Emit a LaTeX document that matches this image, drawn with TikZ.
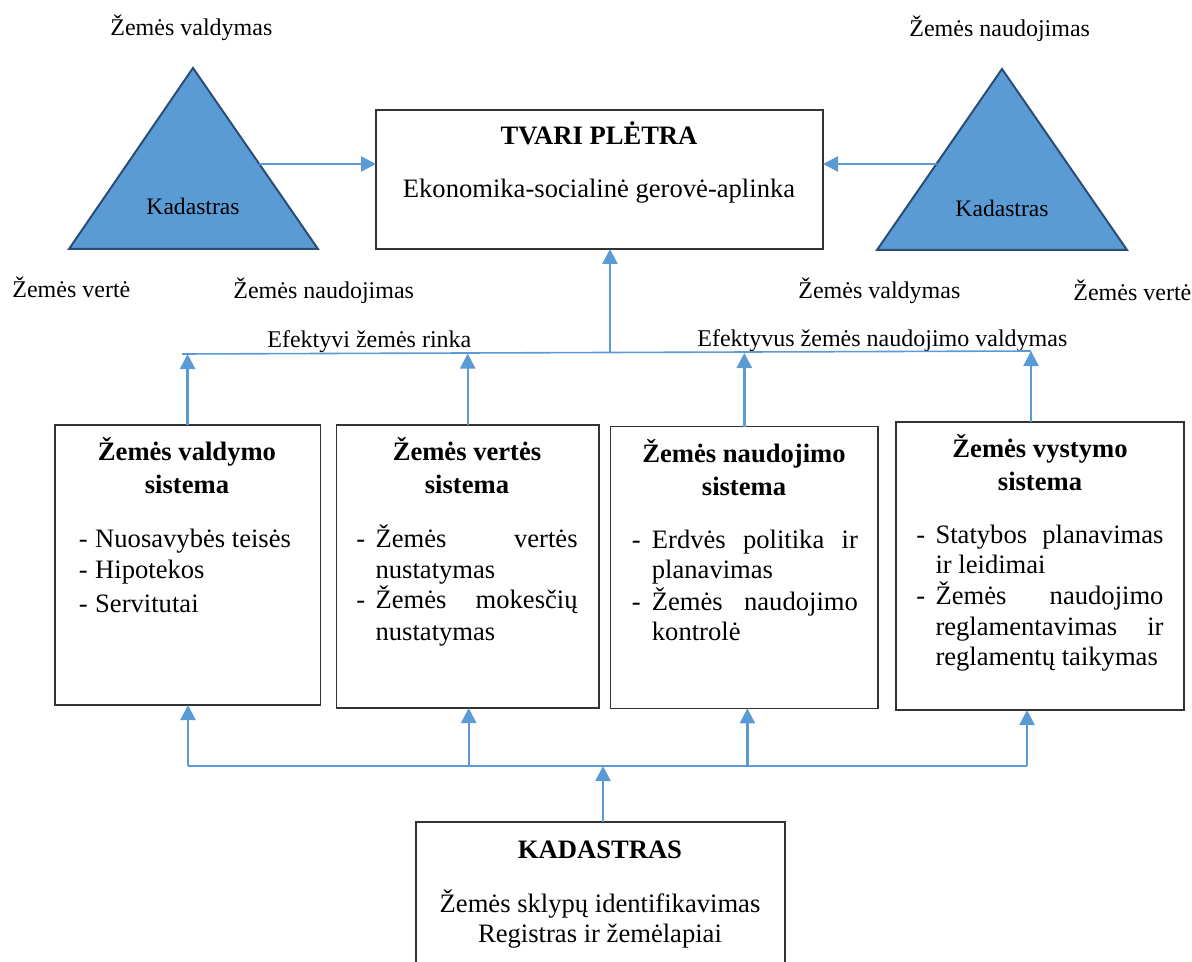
\documentclass[tikz,border=0pt]{standalone}
\usepackage{fontspec}
\setmainfont{Liberation Serif}
\usetikzlibrary{arrows.meta,calc}
\definecolor{arrblue}{HTML}{5B9BD5}
\definecolor{trifill}{HTML}{5B9BD5}
\definecolor{triedge}{HTML}{2A4D74}
\definecolor{boxedge}{HTML}{333333}
\begin{document}
\begin{tikzpicture}[x=0.5pt,y=-0.5pt,
  lab/.style={font=\fontsize{12}{14}\selectfont, inner sep=0pt, anchor=base west},
  trilab/.style={font=\fontsize{11.8}{14}\selectfont, inner sep=0pt, anchor=base},
  bigtxt/.style={font=\fontsize{13.3}{16}\selectfont, inner sep=0pt, anchor=base},
  boxtxt/.style={font=\fontsize{13.3}{16}\selectfont, inner sep=0pt, anchor=base west},
  boxttl/.style={font=\fontsize{13.3}{16}\selectfont\bfseries, inner sep=0pt, anchor=base},
  sysbox/.style={draw=boxedge, line width=0.75pt, inner sep=0pt, outer sep=0pt, anchor=north west},
  tri/.style={fill=trifill, draw=triedge, line width=1pt, line join=miter},
  arr/.style={draw=arrblue, line width=1.2pt, -{Triangle[length=7.5pt,width=7.5pt]}},
  bus/.style={draw=arrblue, line width=0.8pt}
]
\useasboundingbox (0,0) rectangle (1192,962);

% ---------- top box ----------
\node[sysbox, minimum width=223.5pt, minimum height=69.5pt] (tp) at (376,110) {};
\node[bigtxt, font=\fontsize{13.3}{16}\selectfont\bfseries] (tpt) at (599,145) {TVARI PLĖTRA};
\node[bigtxt] (tps) at (599,198) {Ekonomika-socialinė gerovė-aplinka};

% ---------- triangles ----------
\draw[tri] (193,68) -- (318,249) -- (69,249) -- cycle;
\draw[tri] (1002,69) -- (1127,250) -- (877,250) -- cycle;
\node[trilab] (kl) at (193,215) {Kadastras};
\node[trilab] (kr) at (1002,217) {Kadastras};
\coordinate (tl) at (259,164);
\coordinate (tr) at (937,164);
\draw[arr] (tl) -- (tl -| tp.west);
\draw[arr] (tr) -- (tr -| tp.east);

% ---------- labels ----------
\node[lab] (l1) at (110,36) {Žemės valdymas};
\node[lab] (l2) at (12,298) {Žemės vertė};
\node[lab] (l3) at (233,299) {Žemės naudojimas};
\node[lab] (l4) at (909,37) {Žemės naudojimas};
\node[lab] (l5) at (798,299) {Žemės valdymas};
\node[lab] (l6) at (1073,300) {Žemės vertė};
\node[lab] (l7) at (267,347) {Efektyvi žemės rinka};
\node[lab] (l8) at (697,346) {Efektyvus žemės naudojimo valdymas};

% ---------- system boxes ----------
\node[sysbox, minimum width=132.7pt, minimum height=140pt] (b1) at (54.9,425) {};
\node[sysbox, minimum width=131.1pt, minimum height=141.5pt] (b2) at (336.6,425) {};
\node[sysbox, minimum width=133.6pt, minimum height=140.8pt] (b3) at (610.7,426.7) {};
\node[sysbox, minimum width=144.1pt, minimum height=144pt] (b4) at (895.8,422) {};

% box 1
\node[boxttl] (b1t1) at (187,460) {Žemės valdymo};
\node[boxttl] (b1t2) at (187,493) {sistema};
\node[boxtxt] (b1d1) at (78.5,547) {-};
\node[boxtxt] (b1d2) at (78.5,578) {-};
\node[boxtxt] (b1d3) at (78.5,612) {-};
\node[boxtxt] (b1a) at (94.8,547) {Nuosavybės teisės};
\node[boxtxt] (b1b) at (94.8,578) {Hipotekos};
\node[boxtxt] (b1c) at (94.8,612) {Servitutai};

% box 2
\node[boxttl] (b2t1) at (467,460) {Žemės vertės};
\node[boxttl] (b2t2) at (467,493) {sistema};
\node[boxtxt] (b2d1) at (356,547) {-};
\node[boxtxt] (b2d2) at (356,608) {-};
\node[boxtxt] (b2a) at (375.2,547) {\makebox[101pt][s]{Žemės vertės}};
\node[boxtxt] (b2b) at (375.2,578) {nustatymas};
\node[boxtxt] (b2c) at (375.2,608) {\makebox[101pt][s]{Žemės mokesčių}};
\node[boxtxt] (b2e) at (375.2,640) {nustatymas};

% box 3
\node[boxttl] (b3t1) at (744,462) {Žemės naudojimo};
\node[boxttl] (b3t2) at (744,495) {sistema};
\node[boxtxt] (b3d1) at (631.5,548) {-};
\node[boxtxt] (b3d2) at (631.5,610) {-};
\node[boxtxt] (b3a) at (651.5,548) {\makebox[103pt][s]{Erdvės politika ir}};
\node[boxtxt] (b3b) at (651.5,578) {planavimas};
\node[boxtxt] (b3c) at (651.5,610) {\makebox[103pt][s]{Žemės naudojimo}};
\node[boxtxt] (b3e) at (651.5,640) {kontrolė};

% box 4
\node[boxttl] (b4t1) at (1040,457) {Žemės vystymo};
\node[boxttl] (b4t2) at (1040,490) {sistema};
\node[boxtxt] (b4d1) at (916,543) {-};
\node[boxtxt] (b4d2) at (916,604) {-};
\node[boxtxt] (b4a) at (935.1,543) {\makebox[114pt][s]{Statybos planavimas}};
\node[boxtxt] (b4b) at (935.1,573) {ir leidimai};
\node[boxtxt] (b4c) at (935.1,604) {\makebox[114pt][s]{Žemės naudojimo}};
\node[boxtxt] (b4e) at (935.1,635) {\makebox[114pt][s]{reglamentavimas ir}};
\node[boxtxt] (b4f) at (935.1,665) {reglamentų taikymas};

% ---------- top bus ----------
\coordinate (ta1) at (182,354);
\coordinate (ta4) at (1031,351);
\coordinate (tam) at (610,353);
\coordinate (ta4x) at (1031,422);
\draw[bus] (ta1) -- (ta4);
\draw[arr] (b1.north) -- (b1.north |- ta1);
\draw[arr] (b2.north) -- ($(b2.north |- ta1)+(0,-0.5)$);
\draw[arr] (b3.north) -- (b3.north |- tam);
\draw[arr] (ta4x) -- (ta4);
\draw[arr] (tam) -- (tam |- tp.south);

% ---------- bottom box ----------
\node[sysbox, minimum width=184.5pt, minimum height=75pt] (kad) at (416,822) {};
\node[bigtxt, font=\fontsize{13.3}{16}\selectfont\bfseries] (kadt) at (600,858) {KADASTRAS};
\node[bigtxt] (kada) at (600,912) {Žemės sklypų identifikavimas};
\node[bigtxt] (kadb) at (600,942) {Registras ir žemėlapiai};

% ---------- bottom bus ----------
\coordinate (ba1) at (188,766);
\coordinate (ba2) at (468.7,766);
\coordinate (ba3) at (747.4,766);
\coordinate (ba4) at (1027,766);
\coordinate (bam) at (603,766);
\coordinate (kadtop) at (603,822);
\draw[bus] (ba1) -- (ba4);
\draw[arr] (ba1) -- (ba1 |- b1.south);
\draw[arr] (ba2) -- (ba2 |- b2.south);
\draw[arr] (ba3) -- (ba3 |- b3.south);
\draw[arr] (ba4) -- (ba4 |- b4.south);
\draw[arr] (kadtop) -- (bam);
\end{tikzpicture}
\end{document}
